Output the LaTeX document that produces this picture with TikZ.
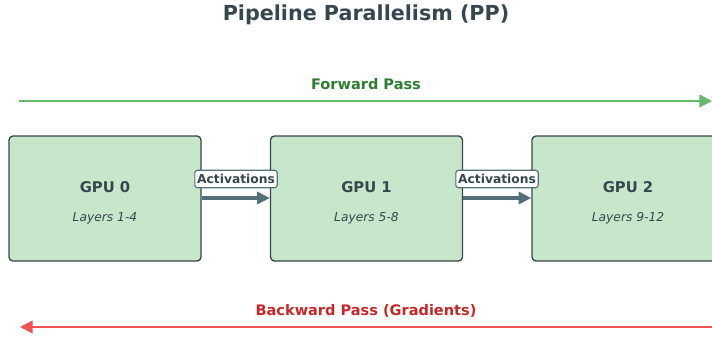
\documentclass[tikz,border=0pt]{standalone}
\usepackage{fontspec}
\setmainfont{DejaVu Sans}
\usetikzlibrary{arrows.meta}
\definecolor{ink}{HTML}{37474F}
\definecolor{gpufill}{HTML}{C8E6C9}
\definecolor{actline}{HTML}{546E7A}
\definecolor{fwdline}{HTML}{66BB6A}
\definecolor{fwdtext}{HTML}{2E7D32}
\definecolor{bwdline}{HTML}{EF5350}
\definecolor{bwdtext}{HTML}{C62828}
\tikzset{
  gpubox/.style={draw=ink, line width=1pt, fill=gpufill, rounded corners=3pt,
    minimum width=192*0.75pt, minimum height=125*0.75pt, inner sep=0pt},
  gputitle/.style={text=ink, font=\bfseries\fontsize{11.1}{13}\selectfont},
  gpusub/.style={text=ink, font=\itshape\fontsize{9.2}{11}\selectfont},
  actlabel/.style={draw=actline, line width=0.8pt, fill=white, rounded corners=2pt,
    text=ink, font=\bfseries\fontsize{9.2}{11}\selectfont, inner xsep=1.8pt, inner ysep=3pt},
  actarrow/.style={draw=actline, line width=2.5pt, -{Triangle[length=9.5pt,width=9pt]}},
  passarrow/.style={line width=1.8pt, -{Triangle[length=9.5pt,width=9.5pt]}},
  passlabel/.style={font=\bfseries\fontsize{10.9}{13}\selectfont},
}
\begin{document}
\begin{tikzpicture}[x=0.75pt,y=-0.75pt]
\useasboundingbox (0,0) rectangle (712,336);
\clip (0,0) rectangle (712,336);

% title
\node[text=ink, font=\bfseries\fontsize{15.5}{18}\selectfont] (title) at (366,15) {Pipeline Parallelism (PP)};

% forward pass
\coordinate (fs) at (19,101);
\coordinate (fe) at (712,101);
\draw[passarrow, draw=fwdline, fill=fwdline] (fs) -- (fe);
\node[passlabel, text=fwdtext] (fl) at (366,84) {Forward Pass};

% GPUs
\node[gpubox] (g0) at (105,198.5) {};
\node[gpubox] (g1) at (366.5,198.5) {};
\node[gpubox] (g2) at (628,198.5) {};
\foreach \g/\n/\l in {g0/0/1-4, g1/1/5-8, g2/2/9-12} {
  \node[gputitle] (\g t) at ([yshift=11.5*0.75pt]\g.center) {GPU \n};
  \node[gpusub] (\g s) at ([yshift=-19.5*0.75pt]\g.center) {Layers \l};
}

% activations between stages
\coordinate (a0s) at (201,198);
\coordinate (a0e) at (269,198);
\coordinate (a1s) at (462,198);
\coordinate (a1e) at (530,198);
\draw[actarrow] (g0.east |- a0s) -- (g1.west |- a0e);
\draw[actarrow] (g1.east |- a1s) -- (g2.west |- a1e);
\node[actlabel] (l0) at (236,179) {Activations};
\node[actlabel] (l1) at (497,179) {Activations};

% backward pass
\coordinate (bs) at (712,327);
\coordinate (be) at (20,327);
\draw[passarrow, draw=bwdline, fill=bwdline] (bs) -- (be);
\node[passlabel, text=bwdtext] (bl) at (366,311) {Backward Pass (Gradients)};
\end{tikzpicture}
\end{document}
